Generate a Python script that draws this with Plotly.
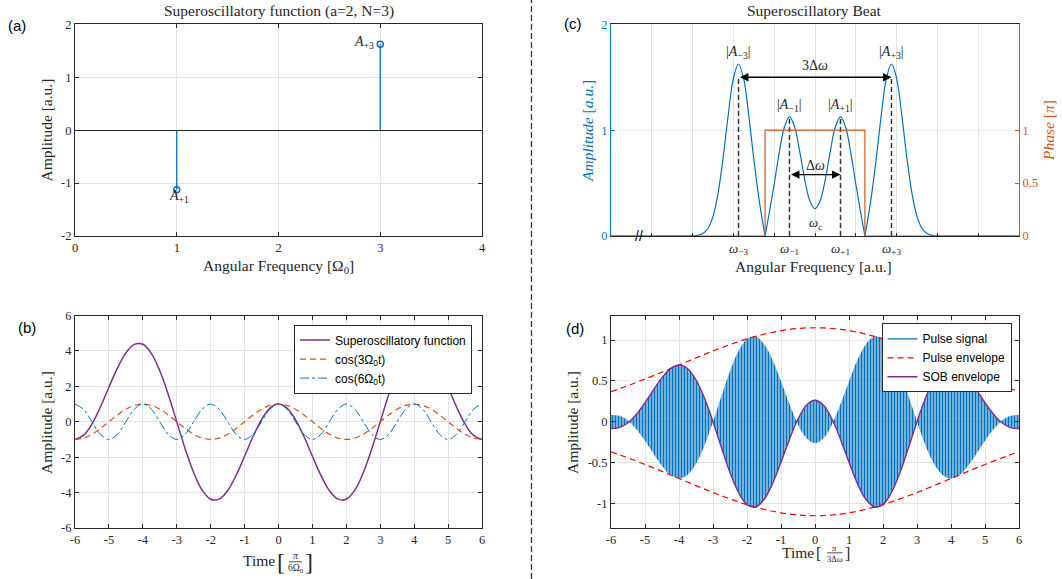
import plotly.graph_objects as go

W, H = 1062, 579
def fx(p): return p / W
def fy(p): return 1 - p / H

INK = "#262626"
GRID = "#E3E3E3"
BLUE = "#0072BD"
ORANGE = "#D95319"
PURPLE = "#7E2F8E"
RED = "#FF0000"
SERIF = "Liberation Serif"
SANS = "Liberation Sans"

# ---------------- data ----------------
# (a) spectrum of the superoscillatory function
stem_freq = [1, 3]
stem_amp = [-1.125, 1.625]
stem_text = ["<i>A</i><sub>+1</sub>", "<i>A</i><sub>+3</sub>"]

# (b) time-domain curves (time in units of pi/(6 Omega_0))
t_b = [-6, -5.75, -5.5, -5.25, -5, -4.75, -4.5, -4.25, -4, -3.75, -3.5, -3.25, -3,
       -2.75, -2.5, -2.25, -2, -1.75, -1.5, -1.25, -1, -0.75, -0.5, -0.25, 0,
       0.25, 0.5, 0.75, 1, 1.25, 1.5, 1.75, 2, 2.25, 2.5, 2.75, 3, 3.25, 3.5,
       3.75, 4, 4.25, 4.5, 4.75, 5, 5.25, 5.5, 5.75, 6]
so_func = [-1.0, -0.772, -0.125, 0.835, 1.949, 3.029, 3.889, 4.372, 4.375, 3.864, 2.880,
           1.537, 0.0, -1.537, -2.880, -3.864, -4.375, -4.372, -3.889, -3.029, -1.949,
           -0.835, 0.125, 0.772, 1.0, 0.772, 0.125, -0.835, -1.949, -3.029, -3.889,
           -4.372, -4.375, -3.864, -2.880, -1.537, 0.0, 1.537, 2.880, 3.864, 4.375,
           4.372, 3.889, 3.029, 1.949, 0.835, -0.125, -0.772, -1.0]
cos3 = [-1, -0.924, -0.707, -0.383, 0, 0.383, 0.707, 0.924, 1, 0.924, 0.707, 0.383, 0,
        -0.383, -0.707, -0.924, -1, -0.924, -0.707, -0.383, 0, 0.383, 0.707, 0.924, 1,
        0.924, 0.707, 0.383, 0, -0.383, -0.707, -0.924, -1, -0.924, -0.707, -0.383, 0,
        0.383, 0.707, 0.924, 1, 0.924, 0.707, 0.383, 0, -0.383, -0.707, -0.924, -1]
cos6 = [1, 0.707, 0, -0.707, -1, -0.707, 0, 0.707, 1, 0.707, 0, -0.707, -1, -0.707, 0,
        0.707, 1, 0.707, 0, -0.707, -1, -0.707, 0, 0.707, 1, 0.707, 0, -0.707, -1,
        -0.707, 0, 0.707, 1, 0.707, 0, -0.707, -1, -0.707, 0, 0.707, 1, 0.707, 0,
        -0.707, -1, -0.707, 0, 0.707, 1]
legend_b = ["Superoscillatory function", "cos(3Ω<sub>0</sub>t)", "cos(6Ω<sub>0</sub>t)"]

# (c) superoscillatory beat spectrum
w_c = [0, 1.75, 1.875, 2.0, 2.125, 2.25, 2.375, 2.5, 2.625, 2.75, 2.875, 3.0, 3.125,
       3.25, 3.375, 3.5, 3.625, 3.75, 3.777, 3.875, 4.0, 4.125, 4.25, 4.375, 4.5,
       4.625, 4.75, 4.875, 5.0, 5.125, 5.25, 5.375, 5.5, 5.625, 5.75, 5.875, 6.0,
       6.125, 6.223, 6.25, 6.375, 6.5, 6.625, 6.75, 6.875, 7.0, 7.125, 7.25, 7.375,
       7.5, 7.625, 7.75, 7.875, 8.0, 8.125, 8.25, 10]
amp_c = [0, 0.0, 0.0, 0.001, 0.006, 0.023, 0.071, 0.186, 0.405, 0.744, 1.148, 1.490,
         1.625, 1.489, 1.144, 0.728, 0.356, 0.057, 0.0, 0.209, 0.492, 0.789, 1.030,
         1.125, 1.033, 0.799, 0.531, 0.330, 0.257, 0.330, 0.531, 0.799, 1.033, 1.125,
         1.030, 0.789, 0.492, 0.209, 0.0, 0.057, 0.356, 0.728, 1.144, 1.489, 1.625,
         1.490, 1.148, 0.744, 0.405, 0.186, 0.071, 0.023, 0.006, 0.001, 0.0, 0.0, 0]
phase_x = [0, 3.777, 6.223, 10]
phase_y = [0, 1, 0, 0]
omega_pos = [3.125, 4.375, 5.625, 6.875]
omega_text = ["<i>ω</i><sub>−3</sub>", "<i>ω</i><sub>−1</sub>",
              "<i>ω</i><sub>+1</sub>", "<i>ω</i><sub>+3</sub>"]
marker_top = [1.5, 1.11, 1.11, 1.5]
peak_text = ["|<i>A</i><sub>−3</sub>|", "|<i>A</i><sub>−1</sub>|",
             "|<i>A</i><sub>+1</sub>|", "|<i>A</i><sub>+3</sub>|"]
peak_text_y = [1.73, 1.23, 1.23, 1.73]
center_freq = 5.0
arrow_wide_y = 1.5
arrow_narrow_y = 0.58

# (d) pulse and envelopes (time in units of pi/(3 dw))
t_d = t_b
pulse_env = [0.369, 0.405, 0.443, 0.482, 0.523, 0.564, 0.607, 0.651, 0.694, 0.738,
             0.781, 0.824, 0.866, 0.906, 0.944, 0.980, 1.014, 1.044, 1.071, 1.095,
             1.114, 1.130, 1.141, 1.148, 1.150, 1.148, 1.141, 1.130, 1.114, 1.095,
             1.071, 1.044, 1.014, 0.980, 0.944, 0.906, 0.866, 0.824, 0.781, 0.738,
             0.694, 0.651, 0.607, 0.564, 0.523, 0.482, 0.443, 0.405, 0.369]
sob_env = [-0.084, -0.072, -0.013, 0.092, 0.233, 0.391, 0.540, 0.650, 0.694, 0.652,
           0.514, 0.290, 0.0, -0.318, -0.622, -0.866, -1.014, -1.043, -0.952, -0.758,
           -0.496, -0.216, 0.033, 0.203, 0.263, 0.203, 0.033, -0.216, -0.496, -0.758,
           -0.952, -1.043, -1.014, -0.866, -0.622, -0.318, 0.0, 0.290, 0.514, 0.652,
           0.694, 0.650, 0.540, 0.391, 0.233, 0.092, -0.013, -0.072, -0.084]
legend_d = ["Pulse signal", "Pulse envelope", "SOB envelope"]

# ---------------- figure ----------------
fig = go.Figure()

# (a)
sx, sy = [], []
for f, a in zip(stem_freq, stem_amp):
    sx += [f, f, None]
    sy += [0, a, None]
fig.add_trace(go.Scatter(x=sx, y=sy, mode="lines", line=dict(color=BLUE, width=1.3),
                         showlegend=False, xaxis="x", yaxis="y"))
fig.add_trace(go.Scatter(x=stem_freq, y=stem_amp, mode="markers",
                         marker=dict(symbol="circle-open", size=6, color=BLUE, line=dict(width=1.5)),
                         showlegend=False, xaxis="x", yaxis="y"))

# (b)
fig.add_trace(go.Scatter(x=t_b, y=so_func, mode="lines", name=legend_b[0],
                         line=dict(color=PURPLE, width=1.5, shape="spline"),
                         xaxis="x2", yaxis="y2", legend="legend"))
fig.add_trace(go.Scatter(x=t_b, y=cos3, mode="lines", name=legend_b[1],
                         line=dict(color=ORANGE, width=1.2, dash="6px,4px", shape="spline"),
                         xaxis="x2", yaxis="y2", legend="legend"))
fig.add_trace(go.Scatter(x=t_b, y=cos6, mode="lines", name=legend_b[2],
                         line=dict(color=BLUE, width=1.0, dash="dashdot", shape="spline"),
                         xaxis="x2", yaxis="y2", legend="legend"))

# (c)
zero_idx = [i for i, (w, a) in enumerate(zip(w_c, amp_c)) if a == 0 and 3 < w < 7]
bounds = [0] + zero_idx + [len(w_c) - 1]
for k in range(len(bounds) - 1):
    i0, i1 = bounds[k], bounds[k + 1]
    fig.add_trace(go.Scatter(x=w_c[i0:i1 + 1], y=amp_c[i0:i1 + 1], mode="lines",
                             line=dict(color=BLUE, width=1.2, shape="spline"),
                             showlegend=False, xaxis="x3", yaxis="y3"))
vx, vy = [], []
for w, h in zip(omega_pos, marker_top):
    vx += [w, w, None]
    vy += [0, h, None]
fig.add_trace(go.Scatter(x=vx, y=vy, mode="lines",
                         line=dict(color="#333333", width=1.5, dash="5px,3px"),
                         showlegend=False, xaxis="x3", yaxis="y3"))
fig.add_trace(go.Scatter(x=phase_x, y=phase_y, mode="lines",
                         line=dict(color=ORANGE, width=1.2, shape="hv"),
                         showlegend=False, xaxis="x3", yaxis="y4"))

# (d)
fig.add_trace(go.Scatter(x=t_d, y=sob_env, mode="lines", line=dict(width=0, shape="spline"),
                         showlegend=False, xaxis="x5", yaxis="y5", hoverinfo="skip"))
fig.add_trace(go.Scatter(x=t_d, y=[-v for v in sob_env], mode="lines",
                         line=dict(width=0, shape="spline"), fill="tonexty",
                         fillcolor="rgba(0,0,0,0)",
                         fillpattern=dict(shape="|", fgcolor=BLUE, bgcolor="rgba(255,255,255,0)",
                                          size=3, solidity=0.7),
                         showlegend=False, xaxis="x5", yaxis="y5", hoverinfo="skip"))
fig.add_trace(go.Scatter(x=[None], y=[None], mode="lines", name=legend_d[0],
                         line=dict(color=BLUE, width=1.2), xaxis="x5", yaxis="y5",
                         legend="legend2"))
fig.add_trace(go.Scatter(x=t_d, y=pulse_env, mode="lines", name=legend_d[1],
                         line=dict(color=RED, width=1.2, dash="6px,4px", shape="spline"),
                         xaxis="x5", yaxis="y5", legend="legend2"))
fig.add_trace(go.Scatter(x=t_d, y=[-v for v in pulse_env], mode="lines", showlegend=False,
                         line=dict(color=RED, width=1.2, dash="6px,4px", shape="spline"),
                         xaxis="x5", yaxis="y5"))
fig.add_trace(go.Scatter(x=t_d, y=sob_env, mode="lines", name=legend_d[2],
                         line=dict(color=PURPLE, width=1.4, shape="spline"),
                         xaxis="x5", yaxis="y5", legend="legend2"))

# ---------------- axes ----------------
TICKFONT = dict(family=SERIF, size=12.5, color=INK)

def axis(domain, rng, tickvals, ticktext, anchor, **kw):
    d = dict(domain=domain, range=rng, tickvals=tickvals, ticktext=ticktext, anchor=anchor,
             showline=True, linecolor=INK, linewidth=1, mirror="allticks", ticks="inside",
             ticklen=4, tickcolor=INK, tickwidth=1, showgrid=True, gridcolor=GRID,
             gridwidth=1, zeroline=False, tickfont=TICKFONT, fixedrange=True)
    d.update(kw)
    return d

def lab(v):
    return [("%g" % x) for x in v]

XL = [fx(75), fx(482)]
XR = [fx(611), fx(1019)]
YT = [fy(236), fy(24.3)]
YB = [fy(528), fy(315.5)]

ax_tick = [0, 1, 2, 3, 4]
ay_tick = [-2, -1, 0, 1, 2]
bx_tick = list(range(-6, 7))
by_tick = [-6, -4, -2, 0, 2, 4, 6]
dy_tick = [-1, -0.5, 0, 0.5, 1]

fig.update_layout(
    xaxis=axis(XL, [0, 4], ax_tick, lab(ax_tick), "y"),
    yaxis=axis(YT, [-2, 2], ay_tick, lab(ay_tick), "x",
               zeroline=True, zerolinecolor=INK, zerolinewidth=1),
    xaxis2=axis(XL, [-6, 6], bx_tick, lab(bx_tick), "y2"),
    yaxis2=axis(YB, [-6, 6], by_tick, lab(by_tick), "x2"),
    xaxis3=axis(XR, [0, 10], omega_pos, omega_text, "y3", showgrid=False, ticks="",
                mirror=True,
                tickfont=dict(family=SERIF, size=13, color=INK),
                minor=dict(tickvals=list(range(1, 10)), showgrid=True, gridcolor=GRID,
                           ticks="inside", ticklen=3, tickcolor=INK)),
    yaxis3=axis(YT, [0, 2], [0, 1, 2], ["0", "1", "2"], "x3", linecolor=BLUE,
                tickcolor=BLUE, mirror=False, gridcolor="rgba(0,114,189,0.12)",
                tickfont=dict(family=SERIF, size=12.5, color=BLUE)),
    yaxis4=dict(domain=YT, range=[0, 2], overlaying="y3", side="right", anchor="x3",
                tickvals=[0, 0.5, 1], ticktext=["0", "0.5", "1"], showline=True,
                linecolor=ORANGE, linewidth=1, ticks="inside", ticklen=4,
                tickcolor=ORANGE, showgrid=False, zeroline=False,
                tickfont=dict(family=SERIF, size=12.5, color=ORANGE), fixedrange=True),
    xaxis5=axis(XR, [-6, 6], bx_tick, lab(bx_tick), "y5"),
    yaxis5=axis(YB, [-1.3, 1.3], dy_tick, lab(dy_tick), "x5"),
)

fig.update_layout(
    width=W, height=H, margin=dict(l=0, r=0, t=0, b=0),
    paper_bgcolor="white", plot_bgcolor="white", template="none",
    legend=dict(x=fx(472), y=fy(324.6), xanchor="right", yanchor="top",
                bgcolor="white", bordercolor=INK, borderwidth=1, traceorder="normal",
                font=dict(family=SANS, size=12, color="black"),
                tracegroupgap=0, itemwidth=30),
    legend2=dict(x=fx(1011.5), y=fy(323.3), xanchor="right", yanchor="top",
                 bgcolor="white", bordercolor=INK, borderwidth=1, traceorder="normal",
                 font=dict(family=SANS, size=12, color="black"),
                 tracegroupgap=0, itemwidth=30),
)

# ---------------- text ----------------
ann = []
def txt(x, y, text, size=15.5, color=INK, family=SERIF, angle=0, xa="center", ya="middle"):
    ann.append(dict(x=fx(x), y=fy(y), xref="paper", yref="paper", text=text,
                    showarrow=False, font=dict(family=family, size=size, color=color),
                    textangle=angle, xanchor=xa, yanchor=ya))

# panel labels
txt(17, 26, "(a)", size=15, family=SANS, color="black")
txt(27, 327, "(b)", size=15, family=SANS, color="black")
txt(572.5, 23.5, "(c)", size=15, family=SANS, color="black")
txt(574.7, 328.7, "(d)", size=15, family=SANS, color="black")

# (a)
txt(278.5, 11, "Superoscillatory function (a=2, N=3)")
txt(46, 130.5, "Amplitude [a.u.]", angle=-90)
txt(278.5, 266, "Angular Frequency [Ω<sub>0</sub>]")
ann.append(dict(x=stem_freq[1] - 0.04, y=stem_amp[1] + 0.04, xref="x", yref="y",
                text=stem_text[1], showarrow=False, xanchor="right", yanchor="middle",
                font=dict(family=SERIF, size=14, color=INK)))
ann.append(dict(x=stem_freq[0] + 0.02, y=stem_amp[0] - 0.12, xref="x", yref="y",
                text=stem_text[0], showarrow=False, xanchor="center", yanchor="middle",
                font=dict(family=SERIF, size=14, color=INK)))

# (b)
txt(46, 423, "Amplitude [a.u.]", angle=-90)
txt(259, 560, "Time")
txt(281, 562, "[", size=24)
txt(309, 562, "]", size=24)
txt(295.5, 555.5, "<i>π</i>", size=9.5)
txt(295.5, 568, "6Ω<sub>0</sub>", size=9.5)

# (c)
txt(814.5, 11, "Superoscillatory Beat")
txt(587, 131, "<i>Amplitude</i> [<i>a.u.</i>]", angle=-90, color=BLUE)
txt(1048, 131, "<i>Phase</i> [<i>π</i>]", angle=-90, color=ORANGE)
txt(813, 266, "Angular Frequency [a.u.]")
for w, t, yv in zip(omega_pos, peak_text, peak_text_y):
    ann.append(dict(x=w, y=yv, xref="x3", yref="y3", text=t, showarrow=False,
                    font=dict(family=SERIF, size=14, color=INK)))
ann.append(dict(x=center_freq, y=1.61, xref="x3", yref="y3", text="3Δ<i>ω</i>",
                showarrow=False, font=dict(family=SERIF, size=14, color=INK)))
ann.append(dict(x=center_freq, y=0.67, xref="x3", yref="y3", text="Δ<i>ω</i>",
                showarrow=False, font=dict(family=SERIF, size=14, color=INK)))
ann.append(dict(x=center_freq, y=0.12, xref="x3", yref="y3", text="<i>ω</i><sub>c</sub>",
                showarrow=False, font=dict(family=SERIF, size=13, color=INK)))
ann.append(dict(x=0.68, y=0, xref="x3", yref="y3", text="//", showarrow=False,
                font=dict(family=SANS, size=14, color="black")))
for (xa, xb, yv) in [(omega_pos[0], omega_pos[3], arrow_wide_y),
                     (omega_pos[1], omega_pos[2], arrow_narrow_y)]:
    ann.append(dict(x=xb, y=yv, ax=xa, ay=yv, xref="x3", yref="y3", axref="x3", ayref="y3",
                    text="", showarrow=True, arrowside="end+start", arrowhead=2,
                    arrowsize=1.3, arrowwidth=1.3, arrowcolor="black",
                    standoff=0, startstandoff=0))

# (d)
txt(572, 423, "Amplitude [a.u.]", angle=-90)
txt(797.5, 552, "Time")
txt(818, 553, "[", size=16)
txt(847.5, 553, "]", size=16)
txt(834.5, 548.3, "<i>π</i>", size=8.5)
txt(834.5, 558.5, "3Δ<i>ω</i>", size=8.5)

fig.update_layout(annotations=ann)

shapes = [
    dict(type="line", xref="paper", yref="paper", x0=fx(531.5), x1=fx(531.5), y0=0, y1=1,
         line=dict(color="#333333", width=1.3, dash="6px,3px")),
    dict(type="line", xref="paper", yref="paper", x0=fx(289), x1=fx(302), y0=fy(561.8),
         y1=fy(561.8), line=dict(color=INK, width=0.8)),
    dict(type="line", xref="paper", yref="paper", x0=fx(827), x1=fx(842.5), y0=fy(552.8),
         y1=fy(552.8), line=dict(color=INK, width=0.8)),
]
fig.update_layout(shapes=shapes)

fig.write_html("out.html", config={"displayModeBar": False},
               post_script="document.body.style.margin='0';document.body.style.overflow='hidden';")
